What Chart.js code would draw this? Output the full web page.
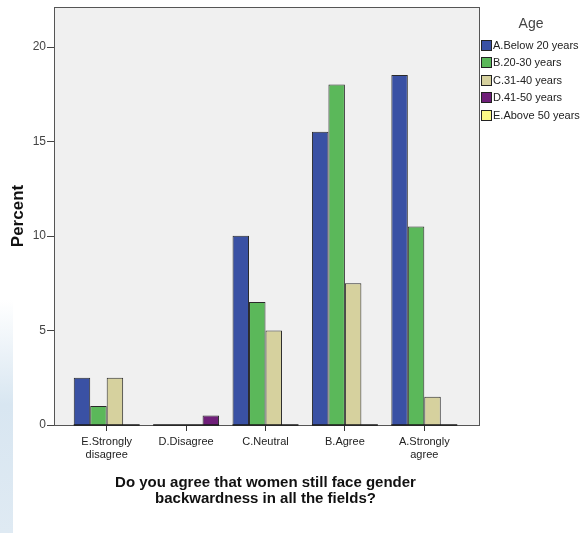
<!DOCTYPE html>
<html>
<head>
<meta charset="utf-8">
<script src="https://cdn.jsdelivr.net/npm/chart.js@4.4.1/dist/chart.umd.min.js"></script>
<style>
    html, body { margin: 0; padding: 0; background: #fff; }
    #wrap { width: 582px; height: 533px; position: relative; }
    #side { position: absolute; left: 0; top: 300px; width: 13px; height: 233px;
        background: linear-gradient(180deg, rgba(214,228,240,0), #d8e6f1 45%, #dfeaf3); }
    canvas { position: relative; }
</style>
</head>
<body>
<div id="wrap">
    <div id="side"></div>
    <canvas id="chart" width="582" height="533"></canvas>
</div>
<script>
const categories = [['E.Strongly', 'disagree'], 'D.Disagree', 'C.Neutral', 'B.Agree', ['A.Strongly', 'agree']];
const below20 = [2.5, 0, 10.0, 15.5, 18.5];
const age20to30 = [1.0, 0, 6.5, 18.0, 10.5];
const age31to40 = [2.5, 0, 5.0, 7.5, 1.5];
const age41to50 = [0, 0.5, 0, 0, 0];
const yTicks = [0, 5, 10, 15, 20];
const legendNames = ['A.Below 20 years', 'B.20-30 years', 'C.31-40 years', 'D.41-50 years', 'E.Above 50 years'];
const legendColors = ['#3a51a4', '#5bb85a', '#d6d19e', '#6f1f79', '#fbf886'];

const framePlugin = {
    id: 'frame',
    beforeDatasetsDraw(chart) {
        const ctx = chart.ctx;
        const a = chart.chartArea;
        const y = chart.scales.y;
        ctx.save();
        ctx.fillStyle = '#f0f0f0';
        ctx.fillRect(a.left - 13, a.top, a.right - a.left + 28, a.bottom - a.top);
        ctx.strokeStyle = '#555';
        ctx.lineWidth = 1;
        ctx.strokeRect(a.left - 13 + 0.5, a.top + 0.5, a.right - a.left + 28, a.bottom - a.top);
        // y tick marks
        ctx.strokeStyle = '#444';
        for (let t of yTicks) {
            let py = Math.round(y.getPixelForValue(t)) + 0.5;
            ctx.beginPath();
            ctx.moveTo(a.left - 20, py);
            ctx.lineTo(a.left - 13, py);
            ctx.stroke();
        }
        ctx.restore();
    },
    afterDatasetsDraw(chart) {
        const ctx = chart.ctx;
        const a = chart.chartArea;
        const first = chart.getDatasetMeta(0).data;
        const last = chart.getDatasetMeta(chart.data.datasets.length - 1).data;
        ctx.save();
        ctx.strokeStyle = '#1a1a1a';
        ctx.lineWidth = 1.5;
        for (let i = 0; i < first.length; i++) {
            let x1 = first[i].x - first[i].width / 2;
            let x2 = last[i].x + last[i].width / 2;
            ctx.beginPath();
            ctx.moveTo(x1, a.bottom);
            ctx.lineTo(x2, a.bottom);
            ctx.stroke();
        }
        // legend
        ctx.fillStyle = '#444';
        ctx.font = '14px "Liberation Sans", Arial, sans-serif';
        ctx.textAlign = 'center';
        ctx.textBaseline = 'middle';
        ctx.fillText('Age', 531, 24);
        ctx.font = '11px "Liberation Sans", Arial, sans-serif';
        ctx.textAlign = 'left';
        for (let i = 0; i < legendNames.length; i++) {
            let cy = Math.round(45 + i * 17.4);
            ctx.fillStyle = legendColors[i];
            ctx.fillRect(481, cy - 5, 11, 11);
            ctx.strokeStyle = '#222';
            ctx.lineWidth = 1;
            ctx.strokeRect(481.5, cy - 5 + 0.5, 10, 10);
            ctx.fillStyle = '#222';
            ctx.fillText(legendNames[i], 493, cy + 1);
        }
        ctx.restore();
    }
};

function makeSet(label, data, color) {
    return {
        label: label,
        data: data,
        backgroundColor: color,
        borderColor: '#2a2a2a',
        borderWidth: 1,
        borderSkipped: 'bottom',
        categoryPercentage: 0.83,
        barPercentage: 1.0
    };
}

new Chart(document.getElementById('chart'), {
    type: 'bar',
    data: {
        labels: categories,
        datasets: [
            makeSet(legendNames[0], below20, legendColors[0]),
            makeSet(legendNames[1], age20to30, legendColors[1]),
            makeSet(legendNames[2], age31to40, legendColors[2]),
            makeSet(legendNames[3], age41to50, legendColors[3])
        ]
    },
    options: {
        responsive: false,
        animation: false,
        layout: { padding: { left: 0, right: 118, top: 7, bottom: 0 } },
        plugins: {
            legend: { display: false },
            tooltip: { enabled: false }
        },
        scales: {
            x: {
                afterFit: (s) => { s.height = 108; s.paddingTop = 0; s.paddingBottom = 0; },
                grid: {
                    offset: false,
                    drawOnChartArea: false,
                    drawTicks: true,
                    tickLength: 6,
                    color: '#333'
                },
                border: { display: false },
                ticks: {
                    color: '#222',
                    padding: 4,
                    maxRotation: 0,
                    autoSkip: false,
                    font: { family: '"Liberation Sans", Arial, sans-serif', size: 11 }
                },
                title: {
                    display: true,
                    text: ['Do you agree that women still face gender', 'backwardness in all the fields?'],
                    color: '#111',
                    padding: { top: 0, bottom: 26 },
                    font: { family: '"Liberation Sans", Arial, sans-serif', size: 15, weight: 'bold', lineHeight: 1.07 }
                }
            },
            y: {
                min: 0,
                max: 22.1,
                afterFit: (s) => { s.width = 67; s.paddingTop = 0; s.paddingBottom = 0; },
                afterBuildTicks: (s) => { s.ticks = yTicks.map(v => ({ value: v })); },
                grid: { display: false },
                border: { display: false },
                ticks: {
                    color: '#444',
                    padding: 13,
                    font: { family: '"Liberation Sans", Arial, sans-serif', size: 12 }
                },
                title: {
                    display: true,
                    text: 'Percent',
                    color: '#111',
                    padding: { top: 8, bottom: 0 },
                    font: { family: '"Liberation Sans", Arial, sans-serif', size: 17, weight: 'bold' }
                }
            }
        }
    },
    plugins: [framePlugin]
});
</script>
</body>
</html>
